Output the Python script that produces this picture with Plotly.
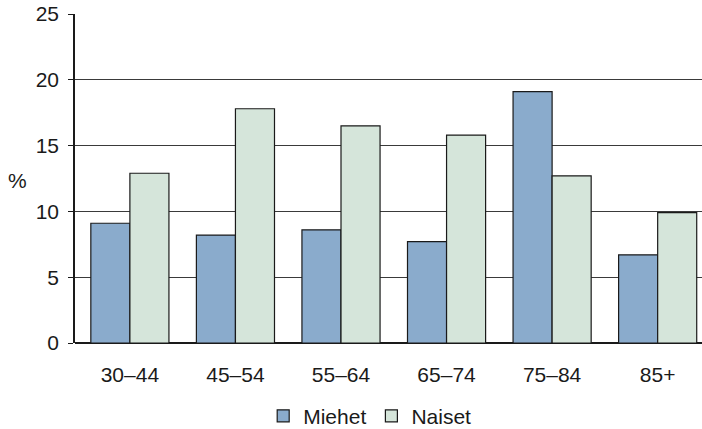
import plotly.graph_objects as go

categories = ["30–44", "45–54", "55–64", "65–74", "75–84", "85+"]
miehet = [9.1, 8.2, 8.6, 7.7, 19.1, 6.7]
naiset = [12.9, 17.8, 16.5, 15.8, 12.7, 9.9]
y_ticks = [0, 5, 10, 15, 20, 25]

FS = 21

fig = go.Figure()
fig.add_trace(go.Bar(x=categories, y=miehet, name="Miehet",
                     marker=dict(color="#8aabcc", line=dict(color="#1a1a1a", width=1.2))))
fig.add_trace(go.Bar(x=categories, y=naiset, name="Naiset",
                     marker=dict(color="#d5e5da", line=dict(color="#1a1a1a", width=1.2))))

fig.update_layout(
    width=702, height=429,
    margin=dict(l=75, r=0, t=14, b=86, autoexpand=False),
    paper_bgcolor="white", plot_bgcolor="white",
    barmode="group", bargap=0.26, bargroupgap=0,
    font=dict(family="Liberation Sans, Arial, sans-serif", size=FS, color="#1a1a1a"),
    showlegend=True,
    legend=dict(orientation="h", xref="paper", x=0.47, xanchor="center",
                yref="container", y=0.03, yanchor="middle",
                font=dict(size=FS), itemwidth=30, traceorder="normal"),
    xaxis=dict(type="category", range=[-0.52, 5.42], showgrid=False,
               showline=False, ticks="", tickfont=dict(size=FS), ticklabelstandoff=17),
    yaxis=dict(range=[0, 25], tickvals=y_ticks, showgrid=True, gridcolor="#3a3a3a",
               gridwidth=1, showline=True, linecolor="#1a1a1a", linewidth=1.5,
               ticks="outside", ticklen=5, tickcolor="#1a1a1a", zeroline=True,
               zerolinecolor="#1a1a1a", zerolinewidth=1.5, tickfont=dict(size=FS),
               ticklabelstandoff=5),
    annotations=[dict(text="%", xref="paper", yref="paper", x=-0.091, y=0.495,
                      xanchor="center", yanchor="middle", showarrow=False,
                      font=dict(size=FS))],
)

fig.write_html("out.html", config={"displayModeBar": False},
               post_script="document.body.style.margin='0';document.body.style.padding='0';")
